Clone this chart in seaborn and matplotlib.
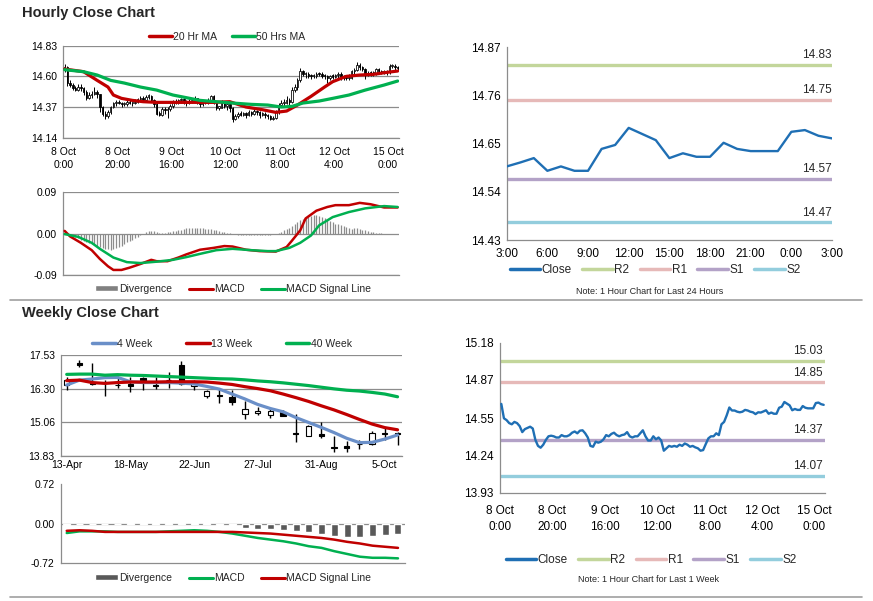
import numpy as np
import pandas as pd
import matplotlib
matplotlib.use("Agg")
import matplotlib.pyplot as plt
import seaborn as sns
from matplotlib.lines import Line2D
from matplotlib.patches import Patch

sns.set_theme(style="white")
plt.rcParams['font.family'] = ['Liberation Sans', 'DejaVu Sans']

# ---------------- Hourly data (8 Oct 0:00 .. 15 Oct 3:00, weekend skipped) -------------
hourly_close = [
    14.67, 14.55, 14.535, 14.51, 14.50, 14.52, 14.51, 14.485, 14.435, 14.46,
    14.47, 14.48, 14.465, 14.37, 14.32, 14.305, 14.33, 14.37, 14.40, 14.405,
    14.40, 14.39, 14.39, 14.41, 14.40, 14.40, 14.41, 14.43, 14.44, 14.425,
    14.447, 14.45, 14.425, 14.39, 14.32, 14.313, 14.355, 14.347, 14.355, 14.375,
    14.41, 14.40, 14.42, 14.43, 14.41, 14.40, 14.41, 14.415, 14.435, 14.40,
    14.39, 14.40, 14.40, 14.425, 14.45, 14.40, 14.365, 14.365, 14.40, 14.375,
    14.39, 14.365, 14.28, 14.30, 14.32, 14.313, 14.32, 14.313, 14.33, 14.32,
    14.34, 14.33, 14.313, 14.32, 14.308, 14.30, 14.28, 14.285, 14.335, 14.383,
    14.40, 14.40, 14.425, 14.41, 14.50, 14.52, 14.575, 14.64, 14.615, 14.615,
    14.605, 14.60, 14.605, 14.62, 14.615, 14.605, 14.60, 14.585, 14.60,
    14.598, 14.607, 14.617, 14.588, 14.598, 14.588, 14.588, 14.638, 14.647, 14.686,
    14.672, 14.658, 14.617, 14.628, 14.62, 14.62, 14.652, 14.638, 14.633, 14.633,
    14.633, 14.677, 14.681, 14.668, 14.662]
hourly_first_open = 14.66
hourly_high = [
    14.69, 14.68, 14.57, 14.55, 14.53, 14.54, 14.54, 14.52, 14.50, 14.48,
    14.49, 14.52, 14.50, 14.47, 14.38, 14.34, 14.35, 14.38, 14.41, 14.42,
    14.42, 14.41, 14.41, 14.43, 14.42, 14.41, 14.43, 14.44, 14.45, 14.45,
    14.46, 14.47, 14.46, 14.43, 14.40, 14.34, 14.37, 14.37, 14.37, 14.39,
    14.42, 14.43, 14.43, 14.44, 14.44, 14.42, 14.43, 14.43, 14.45, 14.44,
    14.41, 14.42, 14.42, 14.44, 14.46, 14.46, 14.41, 14.38, 14.42, 14.41,
    14.41, 14.40, 14.37, 14.32, 14.33, 14.34, 14.33, 14.33, 14.35, 14.34,
    14.36, 14.35, 14.34, 14.33, 14.33, 14.32, 14.31, 14.30, 14.35, 14.40,
    14.42, 14.43, 14.45, 14.44, 14.52, 14.54, 14.59, 14.66, 14.65, 14.63,
    14.63, 14.62, 14.62, 14.63, 14.63, 14.63, 14.62, 14.61, 14.61,
    14.62, 14.62, 14.63, 14.63, 14.61, 14.61, 14.62, 14.65, 14.66, 14.71,
    14.70, 14.68, 14.66, 14.64, 14.64, 14.64, 14.66, 14.66, 14.65, 14.65,
    14.65, 14.69, 14.69, 14.69, 14.68]
hourly_low = [
    14.63, 14.53, 14.52, 14.50, 14.49, 14.49, 14.49, 14.46, 14.42, 14.43,
    14.44, 14.46, 14.44, 14.33, 14.30, 14.28, 14.29, 14.32, 14.36, 14.38,
    14.39, 14.37, 14.38, 14.38, 14.39, 14.38, 14.39, 14.40, 14.42, 14.41,
    14.41, 14.43, 14.41, 14.37, 14.31, 14.30, 14.30, 14.32, 14.29, 14.34,
    14.36, 14.39, 14.39, 14.40, 14.39, 14.38, 14.39, 14.40, 14.40, 14.39,
    14.37, 14.38, 14.39, 14.39, 14.41, 14.39, 14.35, 14.35, 14.36, 14.36,
    14.35, 14.33, 14.26, 14.27, 14.29, 14.30, 14.30, 14.29, 14.30, 14.30,
    14.31, 14.31, 14.29, 14.30, 14.29, 14.28, 14.27, 14.27, 14.28, 14.32,
    14.37, 14.38, 14.39, 14.38, 14.40, 14.48, 14.50, 14.56, 14.60, 14.59,
    14.59, 14.58, 14.59, 14.59, 14.60, 14.59, 14.58, 14.55, 14.57,
    14.58, 14.59, 14.59, 14.57, 14.57, 14.57, 14.57, 14.58, 14.62, 14.64,
    14.65, 14.64, 14.58, 14.60, 14.60, 14.60, 14.61, 14.62, 14.62, 14.62,
    14.61, 14.62, 14.66, 14.65, 14.65]

ma20_idx = [0, 7, 12, 16, 18, 21, 25, 29, 34, 40, 50, 55, 61, 67, 73, 78, 82, 86, 91, 96, 99, 104, 109, 114, 119, 123]
ma20_val = [14.655, 14.635, 14.57, 14.52, 14.46, 14.435, 14.42, 14.41, 14.405, 14.405, 14.405, 14.405, 14.41,
            14.37, 14.35, 14.33, 14.34, 14.385, 14.45, 14.52, 14.56, 14.60, 14.61, 14.615, 14.63, 14.64]
ma50_idx = [0, 7, 12, 17, 22, 28, 34, 40, 45, 50, 56, 62, 69, 75, 80, 84, 88, 94, 99, 105, 111, 118, 123]
ma50_val = [14.65, 14.635, 14.61, 14.57, 14.55, 14.52, 14.497, 14.46, 14.44, 14.42, 14.41, 14.40, 14.39,
            14.385, 14.37, 14.375, 14.40, 14.415, 14.435, 14.46, 14.497, 14.535, 14.565]

hmacd_idx = [0, 2, 6, 10, 13, 16, 18, 21, 24, 28, 32, 34, 38, 42, 45, 50, 55, 59, 62, 67, 72, 78, 82, 84,
             87, 89, 93, 97, 100, 105, 109, 113, 118, 123]
hmacd_val = [0.006, -0.006, -0.02, -0.036, -0.055, -0.071, -0.079, -0.079, -0.074, -0.066, -0.057, -0.06,
             -0.06, -0.052, -0.045, -0.035, -0.031, -0.027, -0.028, -0.035, -0.038, -0.039, -0.029, -0.015,
             0.007, 0.033, 0.05, 0.058, 0.062, 0.062, 0.067, 0.064, 0.057, 0.057]
hsig_idx = [0, 5, 10, 13, 18, 23, 28, 34, 40, 45, 50, 56, 62, 69, 75, 78, 83, 87, 91, 94, 99, 105, 111, 118, 123]
hsig_val = [-0.001, -0.007, -0.02, -0.033, -0.052, -0.062, -0.064, -0.061, -0.057, -0.051, -0.044, -0.036,
            -0.033, -0.036, -0.038, -0.038, -0.031, -0.02, -0.004, 0.018, 0.036, 0.047, 0.055, 0.06, 0.058]
hdiv = [
    0.0, -0.001, -0.003, -0.005, -0.008, -0.010, -0.013, -0.015, -0.018, -0.020,
    -0.022, -0.025, -0.027, -0.029, -0.031, -0.033, -0.034, -0.035, -0.034, -0.032,
    -0.029, -0.026, -0.022, -0.019, -0.016, -0.013, -0.010, -0.007, -0.004, -0.001,
    0.003, 0.005, 0.006, 0.005, 0.003, 0.001, 0.001, 0.002, 0.003, 0.004,
    0.005, 0.006, 0.008, 0.009, 0.011, 0.012, 0.012, 0.013, 0.013, 0.012,
    0.012, 0.012, 0.011, 0.011, 0.010, 0.008, 0.007, 0.005, 0.004, 0.003,
    0.002, 0.001, 0.000, -0.001, -0.002, -0.002, -0.003, -0.003, -0.003, -0.003,
    -0.003, -0.003, -0.003, -0.003, -0.002, -0.002, -0.002, -0.001, 0.000, 0.002,
    0.004, 0.007, 0.010, 0.013, 0.017, 0.021, 0.025, 0.029, 0.032, 0.035,
    0.037, 0.039, 0.040, 0.040, 0.039, 0.037, 0.034, 0.031, 0.028, 0.025,
    0.022, 0.020, 0.018, 0.016, 0.014, 0.012, 0.011, 0.012, 0.013, 0.011,
    0.009, 0.007, 0.005, 0.004, 0.003, 0.002, 0.001, 0.001, 0.000, -0.001,
    -0.001, -0.001, -0.001, -0.001]

hourly_tick_labels = ["8 Oct\n0:00", "8 Oct\n20:00", "9 Oct\n16:00", "10 Oct\n12:00",
                      "11 Oct\n8:00", "12 Oct\n4:00", "15 Oct\n0:00"]

# ---------------- Last 24 hours ----------------
day_close = [14.598, 14.607, 14.617, 14.588, 14.598, 14.588, 14.588, 14.638, 14.647, 14.686,
             14.672, 14.658, 14.617, 14.628, 14.62, 14.62, 14.652, 14.638, 14.633, 14.633,
             14.633, 14.677, 14.681, 14.668, 14.662]
day_tick_labels = ["3:00", "6:00", "9:00", "12:00", "15:00", "18:00", "21:00", "0:00", "3:00"]
day_levels = [14.83, 14.75, 14.57, 14.47]
week_levels = [15.03, 14.85, 14.37, 14.07]
level_names = ["R2", "R1", "S1", "S2"]
level_colors = ["#C3D69B", "#E6B9B8", "#B3A2C7", "#93CDDD"]

# ---------------- Weekly data ----------------
weekly_labels = ["13-Apr", "18-May", "22-Jun", "27-Jul", "31-Aug", "5-Oct"]
w_open = [16.43, 17.22, 16.50, 16.50, 16.44, 16.47, 16.68, 16.44, 16.63, 17.16, 16.40, 16.03, 16.05, 15.98,
          15.37, 15.40, 15.33, 15.43, 14.67, 14.57, 14.62, 14.16, 14.19, 14.28, 14.26, 14.67, 14.67]
w_close = [16.61, 17.15, 16.48, 16.49, 16.43, 16.41, 16.59, 16.41, 16.62, 16.47, 16.49, 16.22, 16.01, 15.81,
           15.55, 15.49, 15.47, 15.31, 14.63, 14.93, 14.58, 14.12, 14.14, 14.27, 14.69, 14.63, 14.63]
w_high = [16.74, 17.35, 17.22, 16.61, 16.68, 16.74, 16.72, 16.71, 16.92, 17.32, 16.61, 16.25, 16.27, 16.25,
          15.86, 15.62, 15.60, 15.50, 15.37, 14.98, 15.06, 14.57, 14.37, 14.40, 14.74, 14.86, 14.70]
w_low = [16.25, 17.10, 16.43, 16.04, 16.31, 16.16, 16.25, 16.28, 16.31, 16.43, 16.25, 15.94, 15.76, 15.70,
         15.18, 15.34, 15.24, 15.28, 14.33, 14.55, 14.50, 13.98, 13.96, 14.09, 14.22, 14.40, 14.23]
ma4w = [16.43, 16.61, 16.65, 16.70, 16.71, 16.55, 16.52, 16.52, 16.52, 16.50, 16.47, 16.38, 16.28, 16.10,
        15.92, 15.72, 15.57, 15.45, 15.24, 15.06, 14.88, 14.69, 14.48, 14.32, 14.33, 14.45, 14.60]
ma13w = [16.59, 16.61, 16.52, 16.49, 16.52, 16.54, 16.54, 16.54, 16.55, 16.55, 16.55, 16.54, 16.50, 16.45,
         16.37, 16.30, 16.22, 16.10, 15.97, 15.83, 15.67, 15.52, 15.35, 15.17, 15.00, 14.87, 14.79]
ma40w = [16.82, 16.83, 16.83, 16.79, 16.81, 16.79, 16.78, 16.76, 16.74, 16.72, 16.70, 16.68, 16.66, 16.65,
         16.62, 16.58, 16.55, 16.51, 16.46, 16.41, 16.35, 16.29, 16.24, 16.21, 16.16, 16.10, 16.00]
w_macd = [-0.17, -0.14, -0.14, -0.14, -0.15, -0.15, -0.15, -0.15, -0.14, -0.13, -0.12, -0.13, -0.15, -0.18,
          -0.22, -0.26, -0.29, -0.32, -0.36, -0.41, -0.44, -0.50, -0.55, -0.60, -0.62, -0.62, -0.63]
w_signal = [-0.13, -0.12, -0.13, -0.15, -0.15, -0.15, -0.15, -0.15, -0.15, -0.15, -0.15, -0.15, -0.15, -0.15,
            -0.16, -0.17, -0.18, -0.20, -0.22, -0.24, -0.26, -0.29, -0.33, -0.36, -0.40, -0.42, -0.44]
w_div = [-0.03, -0.01, -0.01, -0.01, 0.0, 0.005, 0.01, 0.01, 0.01, 0.015, 0.01, 0.005, -0.02, -0.03,
         -0.07, -0.09, -0.10, -0.12, -0.14, -0.16, -0.19, -0.22, -0.24, -0.24, -0.22, -0.20, -0.19]

# ---------------- colours ----------------
RED = "#C00000"
GREEN = "#00B050"
BLUE4W = "#6A8FC8"
CLOSE_BLUE = "#1F6FB4"
GRID = "#8C8C8C"

W, H = 873, 601
fig = plt.figure(figsize=(W / 100, H / 100), dpi=100)
fig.patch.set_facecolor("white")


def px_axes(x0, y0, x1, y1):
    return fig.add_axes([x0 / W, 1 - y1 / H, (x1 - x0) / W, (y1 - y0) / H])


def style(ax, size=7.5, grid=True, xpad=1.5):
    ax.set_facecolor("white")
    for s in ["top", "right"]:
        ax.spines[s].set_visible(False)
    for s in ["left", "bottom"]:
        ax.spines[s].set_color(GRID)
        ax.spines[s].set_linewidth(0.9)
    ax.tick_params(axis="both", direction="out", length=3, width=0.8, color=GRID,
                   labelsize=size, labelcolor="black", pad=1.5)
    ax.tick_params(axis="x", pad=xpad)
    if grid:
        ax.yaxis.grid(True, color=GRID, lw=0.9)
    ax.set_axisbelow(True)
    ax.set_xlabel("")
    ax.set_ylabel("")


def candles(ax, x, o, c, hi, lo, width, lw):
    x = np.asarray(x, float)
    o = np.asarray(o, float)
    c = np.asarray(c, float)
    ax.vlines(x, lo, hi, color="black", lw=lw, zorder=3)
    up = c >= o
    body = np.maximum(np.abs(c - o), 0.004 if width < 0.5 else 0.01)
    bottom = np.minimum(o, c)
    ax.bar(x[up], body[up], bottom=bottom[up], width=width, color="white",
           edgecolor="black", lw=lw * 0.8, zorder=4)
    ax.bar(x[~up], body[~up], bottom=bottom[~up], width=width, color="black",
           edgecolor="black", lw=lw * 0.8, zorder=4)


# ======================= Titles / separators =======================
fig.text(22 / W, 1 - 13 / H, "Hourly Close Chart", fontsize=10.5, fontweight="bold", va="center", ha="left")
fig.text(22 / W, 1 - 313 / H, "Weekly Close Chart", fontsize=10.5, fontweight="bold", va="center", ha="left")
fig.add_artist(Line2D([10 / W, 862 / W], [1 - 300 / H, 1 - 300 / H], color="#A0A0A0", lw=1.2))
fig.add_artist(Line2D([10 / W, 862 / W], [1 - 597 / H, 1 - 597 / H], color="#A0A0A0", lw=1.2))

# ======================= Hourly candle chart =======================
n_h = len(hourly_close)
hx = np.arange(n_h)
hourly_open = [hourly_first_open] + hourly_close[:-1]
ax1 = px_axes(63.3, 45.7, 399, 137.7)
style(ax1)
candles(ax1, hx, hourly_open, hourly_close, hourly_high, hourly_low, 0.55, 0.7)
sns.lineplot(x=ma20_idx, y=ma20_val, ax=ax1, color=RED, lw=2.3, legend=False, zorder=5)
sns.lineplot(x=ma50_idx, y=ma50_val, ax=ax1, color=GREEN, lw=2.3, legend=False, zorder=5)
ax1.set_xlim(-0.5, n_h - 0.5)
ax1.set_ylim(14.14, 14.83)
ax1.set_yticks([14.14, 14.37, 14.60, 14.83])
ax1.set_yticklabels(["14.14", "14.37", "14.60", "14.83"])
ax1.set_xticks([-0.5 + 20 * k for k in range(7)])
ax1.set_xticklabels(hourly_tick_labels, linespacing=1.45)
style(ax1, xpad=3.5)
fig.legend(handles=[Line2D([], [], color=RED, lw=2.5), Line2D([], [], color=GREEN, lw=2.5)],
           labels=["20 Hr MA", "50 Hrs MA"], loc="center", bbox_to_anchor=(227 / W, 1 - 37 / H),
           ncol=2, frameon=False, fontsize=7.5, handlelength=2.2, handletextpad=0.1, columnspacing=1.4)

# ======================= Hourly MACD =======================
ax2 = px_axes(63.3, 192.3, 399, 275)
style(ax2)
ax2.vlines(hx, 0, hdiv, color="#8C8C8C", lw=0.9, zorder=2)
sns.lineplot(x=hmacd_idx, y=hmacd_val, ax=ax2, color=RED, lw=1.8, legend=False, zorder=4)
sns.lineplot(x=hsig_idx, y=hsig_val, ax=ax2, color=GREEN, lw=1.8, legend=False, zorder=4)
ax2.set_xlim(-0.5, n_h - 0.5)
ax2.set_ylim(-0.09, 0.09)
ax2.set_yticks([-0.09, 0.0, 0.09])
ax2.set_yticklabels(["-0.09", "0.00", "0.09"])
ax2.set_xticks([-0.5 + 20 * k for k in range(7)])
ax2.set_xticklabels([])
style(ax2)
ax2.tick_params(axis="x", length=0)
fig.legend(handles=[Patch(facecolor="#808080"), Line2D([], [], color=RED, lw=2.2), Line2D([], [], color=GREEN, lw=2.2)],
           labels=["Divergence", "MACD", "MACD Signal Line"], loc="center", bbox_to_anchor=(233 / W, 1 - 289 / H),
           ncol=3, frameon=False, fontsize=7.5, handlelength=2.3, handleheight=0.5, handletextpad=0.1,
           columnspacing=1.6)

# ======================= Last 24 hours =======================
ax3 = px_axes(506.7, 47.3, 832, 240)
style(ax3, size=8.5, grid=False)
dx = np.arange(len(day_close))
for lv, nm, col in zip(day_levels, level_names, level_colors):
    ax3.axhline(lv, color=col, lw=2.4, zorder=2)
    ax3.text(len(day_close) - 1, lv + 0.009, f"{lv:.2f}", ha="right", va="bottom", fontsize=8.5)
sns.lineplot(x=dx, y=day_close, ax=ax3, color=CLOSE_BLUE, lw=1.7, legend=False, zorder=4)
ax3.set_xlim(0, len(day_close) - 1)
ax3.set_ylim(14.43, 14.87)
ax3.set_yticks([14.43, 14.54, 14.65, 14.76, 14.87])
ax3.set_yticklabels(["14.43", "14.54", "14.65", "14.76", "14.87"])
ax3.set_xticks(list(range(0, 25, 3)))
ax3.set_xticklabels(day_tick_labels)
style(ax3, size=8.5, grid=False, xpad=3)
handles = [Line2D([], [], color=CLOSE_BLUE, lw=2.5)] + [Line2D([], [], color=c, lw=2.5) for c in level_colors]
fig.legend(handles=handles, labels=["Close"] + level_names, loc="center", bbox_to_anchor=(655 / W, 1 - 270 / H),
           ncol=5, frameon=False, fontsize=8.5, handlelength=2.6, handletextpad=0.1, columnspacing=0.9)
fig.text(650 / W, 1 - 292 / H, "Note: 1 Hour Chart for Last 24 Hours", ha="center", va="center", fontsize=6.5)

# ======================= Weekly candle chart =======================
n_w = len(w_close)
wx = np.arange(n_w)
ax4 = px_axes(61, 355, 402, 456)
style(ax4)
candles(ax4, wx, w_open, w_close, w_high, w_low, 0.42, 1.0)
sns.lineplot(x=wx, y=ma4w, ax=ax4, color=BLUE4W, lw=2.3, legend=False, zorder=5)
sns.lineplot(x=wx, y=ma13w, ax=ax4, color=RED, lw=2.3, legend=False, zorder=5)
sns.lineplot(x=wx, y=ma40w, ax=ax4, color=GREEN, lw=2.3, legend=False, zorder=5)
ax4.set_xlim(-0.45, n_w - 0.65)
ax4.set_ylim(13.83, 17.53)
ax4.set_yticks([13.83, 15.06, 16.30, 17.53])
ax4.set_yticklabels(["13.83", "15.06", "16.30", "17.53"])
ax4.set_xticks([0, 5, 10, 15, 20, 25])
ax4.set_xticklabels(weekly_labels)
style(ax4, xpad=3)
ax4.tick_params(axis="x", length=0)
fig.legend(handles=[Line2D([], [], color=BLUE4W, lw=2.5), Line2D([], [], color=RED, lw=2.5),
                    Line2D([], [], color=GREEN, lw=2.5)],
           labels=["4 Week", "13 Week", "40 Week"], loc="center", bbox_to_anchor=(222 / W, 1 - 344 / H),
           ncol=3, frameon=False, fontsize=7.5, handlelength=2.3, handletextpad=0.1, columnspacing=3.2)

# ======================= Weekly MACD =======================
ax5 = px_axes(61, 484, 405, 563.3)
style(ax5, grid=False)
ax5.axhline(0, color=GRID, lw=0.9, zorder=1)
ax5.bar(wx, w_div, width=0.55, color="#595959", zorder=2)
sns.lineplot(x=wx, y=w_macd, ax=ax5, color=GREEN, lw=1.8, legend=False, zorder=4)
sns.lineplot(x=wx, y=w_signal, ax=ax5, color=RED, lw=1.8, legend=False, zorder=4)
ax5.set_xlim(-0.45, n_w - 0.45)
ax5.set_ylim(-0.72, 0.72)
ax5.set_yticks([-0.72, 0.0, 0.72])
ax5.set_yticklabels(["-0.72", "0.00", "0.72"])
ax5.set_xticks([])
style(ax5, grid=False)
fig.legend(handles=[Patch(facecolor="#595959"), Line2D([], [], color=GREEN, lw=2.2), Line2D([], [], color=RED, lw=2.2)],
           labels=["Divergence", "MACD", "MACD Signal Line"], loc="center", bbox_to_anchor=(233 / W, 1 - 578 / H),
           ncol=3, frameon=False, fontsize=7.5, handlelength=2.3, handleheight=0.5, handletextpad=0.1,
           columnspacing=1.6)

# ======================= Last 1 week line chart =======================
ax6 = px_axes(500, 342.7, 825, 492.7)
style(ax6, size=8.5, grid=False)
for lv, nm, col in zip(week_levels, level_names, level_colors):
    ax6.axhline(lv, color=col, lw=2.4, zorder=2)
    ax6.text(n_h - 1.5, lv + 0.03, f"{lv:.2f}", ha="right", va="bottom", fontsize=8.5)
sns.lineplot(x=hx, y=hourly_close, ax=ax6, color=CLOSE_BLUE, lw=1.7, legend=False, zorder=4)
ax6.set_xlim(-0.5, n_h - 0.5)
ax6.set_ylim(13.93, 15.18)
ax6.set_yticks([13.93, 14.24, 14.55, 14.87, 15.18])
ax6.set_yticklabels(["13.93", "14.24", "14.55", "14.87", "15.18"])
ax6.set_xticks([-0.5 + 20 * k for k in range(7)])
ax6.set_xticklabels(hourly_tick_labels, linespacing=1.45)
style(ax6, size=8.5, grid=False, xpad=6)
fig.legend(handles=handles, labels=["Close"] + level_names, loc="center", bbox_to_anchor=(651 / W, 1 - 560 / H),
           ncol=5, frameon=False, fontsize=8.5, handlelength=2.6, handletextpad=0.1, columnspacing=0.9)
fig.text(648 / W, 1 - 580 / H, "Note: 1 Hour Chart for Last 1 Week", ha="center", va="center", fontsize=6.5)

fig.savefig("out.png", dpi=100, facecolor="white")
